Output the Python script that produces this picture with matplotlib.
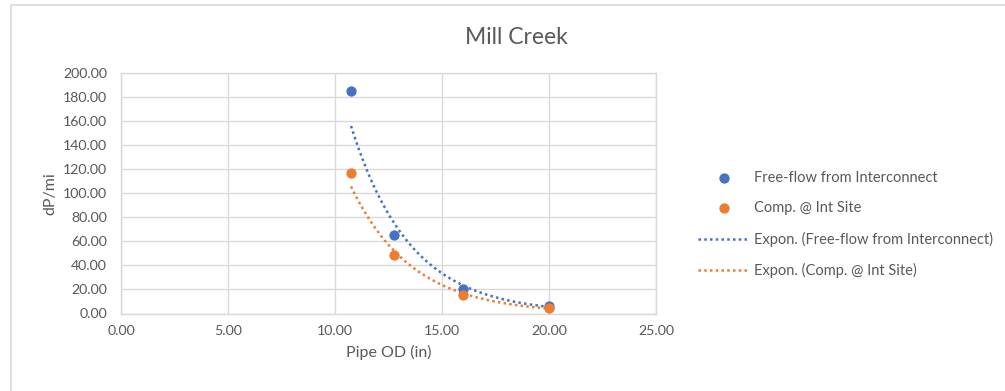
import matplotlib.pyplot as plt
import matplotlib.patches as patches
import numpy as np

plt.rcParams['font.family'] = ['Lato', 'DejaVu Sans']

# data
pipe_od = [10.75, 12.75, 16.0, 20.0]
free_flow = [185.3, 65.6, 20.3, 6.1]
comp_int = [117.2, 48.3, 15.3, 4.4]

label_free = "Free-flow from Interconnect"
label_comp = "Comp. @ Int Site"

blue = "#4472C4"
orange = "#ED7D31"
txt = "#595959"
grid = "#D9D9D9"


def expon_trend(x, y):  # excel style exponential trendline (fit of ln y)
    b, ln_a = np.polyfit(x, np.log(y), 1)
    xs = np.linspace(min(x), max(x), 100)
    return xs, np.exp(ln_a) * np.exp(b * xs)


fig = plt.figure(figsize=(10.05, 3.91), dpi=100)
ax = fig.add_axes([121 / 1005, 1 - 313.5 / 391, (656 - 121) / 1005, (313.5 - 73.3) / 391])

# chart border
fig.patches.append(patches.Rectangle((11 / 1005, -0.05), 1.1, 1 - 5 / 391 + 0.05,
                                     transform=fig.transFigure, fill=False,
                                     edgecolor="#D9D9D9", linewidth=1.2))

ax.scatter(pipe_od, free_flow, s=55, color=blue, label=label_free, zorder=3, linewidths=0)
ax.scatter(pipe_od, comp_int, s=55, color=orange, label=label_comp, zorder=3, linewidths=0)

xs, ys = expon_trend(pipe_od, free_flow)
ax.plot(xs, ys, linestyle=(0, (1, 1.3)), color=blue, linewidth=1.8,
        label="Expon. (" + label_free + ")", zorder=2)
xs, ys = expon_trend(pipe_od, comp_int)
ax.plot(xs, ys, linestyle=(0, (1, 1.3)), color=orange, linewidth=1.8,
        label="Expon. (" + label_comp + ")", zorder=2)

ax.set_xlim(0, 25)
ax.set_ylim(0, 200)
ax.set_xticks(np.arange(0, 26, 5))
ax.set_yticks(np.arange(0, 201, 20))
ax.xaxis.set_major_formatter(plt.FuncFormatter(lambda v, p: "%.2f" % v))
ax.yaxis.set_major_formatter(plt.FuncFormatter(lambda v, p: "%.2f" % v))
ax.tick_params(length=0, labelsize=10.2, colors=txt)
ax.tick_params(axis="y", pad=10)
ax.tick_params(axis="x", pad=8)
ax.grid(True, color=grid, linewidth=1.0)
ax.set_axisbelow(True)
for side in ["top", "right", "left", "bottom"]:
    ax.spines[side].set_color(grid)
    ax.spines[side].set_linewidth(1.0)

ax.set_xlabel("Pipe OD (in)", fontsize=11.5, color=txt, labelpad=6)
ax.set_ylabel("dP/mi", fontsize=11.5, color=txt, labelpad=4)

fig.text(516 / 1005, 1 - 37 / 391, "Mill Creek", fontsize=16.5, color=txt,
         ha="center", va="center")

leg = ax.legend(loc="center left", bbox_to_anchor=(698 / 1005, 1 - 224.5 / 391),
                bbox_transform=fig.transFigure, frameon=False, fontsize=10.5,
                labelspacing=1.12, handlelength=3.5, handletextpad=0.35,
                borderpad=0, borderaxespad=0)
for t in leg.get_texts():
    t.set_color(txt)

fig.savefig("out.png", dpi=100, facecolor="white")
